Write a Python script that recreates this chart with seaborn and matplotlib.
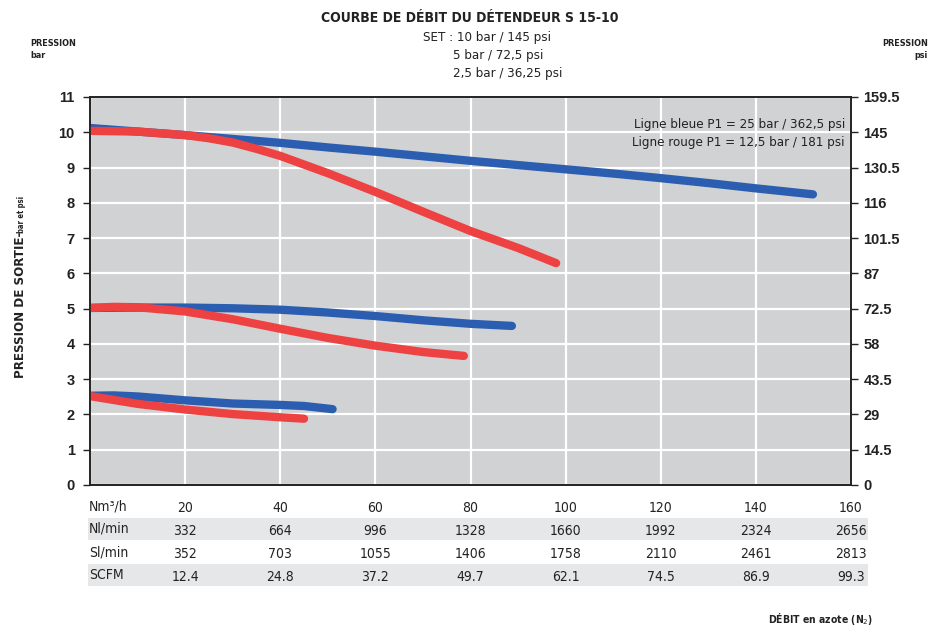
import matplotlib
matplotlib.use("Agg")
import matplotlib.pyplot as plt
import matplotlib.transforms as mtransforms
from matplotlib import font_manager as fm
from matplotlib.patches import Rectangle
import seaborn as sns
import pandas as pd

# Outlet pressure (bar) vs nitrogen flow (Nm3/h) for the three set points
blue_10_x = [0, 10, 20, 30, 40, 50, 60, 70, 80, 90, 100, 110, 120, 130, 140, 152]
blue_10_y = [10.12, 10.02, 9.92, 9.81, 9.70, 9.57, 9.45, 9.32, 9.19, 9.07, 8.95, 8.83, 8.70, 8.56, 8.41, 8.24]
red_10_x = [0, 10, 20, 25, 30, 35, 40, 50, 60, 70, 80, 90, 98]
red_10_y = [10.04, 10.02, 9.92, 9.83, 9.71, 9.53, 9.33, 8.84, 8.31, 7.75, 7.2, 6.72, 6.29]

blue_5_x = [0, 10, 20, 30, 40, 50, 60, 70, 80, 88.7]
blue_5_y = [5.02, 5.03, 5.03, 5.01, 4.97, 4.89, 4.79, 4.67, 4.57, 4.51]
red_5_x = [0, 5, 10, 20, 30, 40, 50, 60, 70, 78.6]
red_5_y = [5.02, 5.05, 5.04, 4.92, 4.70, 4.43, 4.17, 3.95, 3.77, 3.66]

blue_25_x = [0, 5, 10, 20, 30, 40, 45, 51]
blue_25_y = [2.53, 2.54, 2.51, 2.40, 2.31, 2.27, 2.24, 2.15]
red_25_x = [0, 10, 20, 30, 40, 45]
red_25_y = [2.52, 2.30, 2.14, 2.01, 1.92, 1.88]

# Axis ticks
bar_ticks = list(range(0, 12))
psi_labels = ["0", "14.5", "29", "43.5", "58", "72.5", "87", "101.5", "116", "130.5", "145", "159.5"]

# Flow conversion table under the chart
nm3h = [20, 40, 60, 80, 100, 120, 140, 160]
nl_min = ["332", "664", "996", "1328", "1660", "1992", "2324", "2656"]
sl_min = ["352", "703", "1055", "1406", "1758", "2110", "2461", "2813"]
scfm = ["12.4", "24.8", "37.2", "49.7", "62.1", "74.5", "86.9", "99.3"]

BLUE = "#2b5eb1"
RED = "#ee4242"
BG = "#d1d2d4"
INK = "#222222"

sns.set_theme(style="white")
plt.rcParams["font.family"] = ["Liberation Sans", "DejaVu Sans"]

# Prefer a narrow face for the annotation text when one is installed
NARROW = {"family": "Roboto"}
for f in fm.fontManager.ttflist:
    if "Narrow" in f.name or "Condensed" in f.name:
        NARROW = {"family": f.name}
        break
    if f.name == "DejaVu Sans" and f.stretch == "condensed":
        NARROW = {"family": "DejaVu Sans", "stretch": "condensed"}
        break

fig = plt.figure(figsize=(9.3, 6.28), dpi=100)
ax = fig.add_axes([90 / 930, 1 - 485 / 628, (851 - 90) / 930, (485 - 97) / 628])
ax.set_facecolor(BG)

curves = [
    (blue_10_x, blue_10_y, BLUE), (red_10_x, red_10_y, RED),
    (blue_5_x, blue_5_y, BLUE), (red_5_x, red_5_y, RED),
    (blue_25_x, blue_25_y, BLUE), (red_25_x, red_25_y, RED),
]
for xs, ys, col in curves:
    df = pd.DataFrame({"debit": xs, "pression": ys})
    sns.lineplot(data=df, x="debit", y="pression", color=col, lw=6,
                 solid_capstyle="round", solid_joinstyle="round", ax=ax, zorder=3)

ax.set_xlim(0, 160)
ax.set_ylim(0, 11)
ax.set_xticks([0] + nm3h)
ax.set_xticklabels([])
ax.set_yticks(bar_ticks)
ax.set_yticklabels([str(t) for t in bar_ticks], fontsize=10.5, fontweight="bold", color=INK)
ax.grid(True, color="white", lw=1.6)
ax.set_axisbelow(True)
ax.set_xlabel("")
ax.set_ylabel("")
for sp in ax.spines.values():
    sp.set_color(INK)
    sp.set_linewidth(1.2)
ax.tick_params(axis="both", direction="out", length=5, width=1, color=INK, pad=6)

ax2 = ax.twinx()
ax2.set_ylim(0, 11)
ax2.set_yticks(bar_ticks)
ax2.set_yticklabels(psi_labels, fontsize=10.5, fontweight="bold", color=INK)
ax2.tick_params(axis="y", direction="out", length=5, width=1, color=INK, pad=4)
for sp in ax2.spines.values():
    sp.set_color(INK)
    sp.set_linewidth(1.2)

# Legend notes inside the plot
ax.text(0.992, 0.93, "Ligne bleue P1 = 25 bar / 362,5 psi", transform=ax.transAxes,
        ha="right", va="center", fontsize=9.5, color=INK, **NARROW)
ax.text(0.992, 0.882, "Ligne rouge P1 = 12,5 bar / 181 psi", transform=ax.transAxes,
        ha="right", va="center", fontsize=9.5, color=INK, **NARROW)


def fy(py):
    return 1 - py / 628


# Titles
fig.text(470 / 930, fy(18), "COURBE DE DÉBIT DU DÉTENDEUR S 15-10", ha="center", va="center",
         fontsize=10, fontweight="bold", color=INK, **NARROW)
fig.text(423 / 930, fy(38), "SET : 10 bar / 145 psi", ha="left", va="center",
         fontsize=9.5, color=INK, **NARROW)
fig.text(453 / 930, fy(56), "5 bar / 72,5 psi", ha="left", va="center",
         fontsize=9.5, color=INK, **NARROW)
fig.text(453 / 930, fy(74), "2,5 bar / 36,25 psi", ha="left", va="center",
         fontsize=9.5, color=INK, **NARROW)

fig.text(30 / 930, fy(44), "PRESSION", ha="left", va="center", fontsize=6.5,
         fontweight="bold", color=INK, **NARROW)
fig.text(30 / 930, fy(55), "bar", ha="left", va="center", fontsize=6.5,
         fontweight="bold", color=INK, **NARROW)
fig.text(928 / 930, fy(44), "PRESSION", ha="right", va="center", fontsize=6.5,
         fontweight="bold", color=INK, **NARROW)
fig.text(928 / 930, fy(55), "psi", ha="right", va="center", fontsize=6.5,
         fontweight="bold", color=INK, **NARROW)

# Vertical axis title, two sizes sharing one baseline
fig.text(24 / 930, fy(378), "PRESSION DE SORTIE-", rotation=90, rotation_mode="anchor",
         ha="left", va="baseline", fontsize=9.5, fontweight="bold", color=INK, **NARROW)
fig.text(24 / 930, fy(233), "bar et psi", rotation=90, rotation_mode="anchor",
         ha="left", va="baseline", fontsize=5.5, fontweight="bold", color=INK, **NARROW)

# Conversion table: x in data units, y in figure units
tr = mtransforms.blended_transform_factory(ax.transData, fig.transFigure)
row_y = [506, 529, 552, 575]
row_names = ["Nm³/h", "Nl/min", "Sl/min", "SCFM"]
row_vals = [[str(v) for v in nm3h], nl_min, sl_min, scfm]
for i, (yy, name, vals) in enumerate(zip(row_y, row_names, row_vals)):
    if i % 2 == 1:
        fig.patches.append(Rectangle((88 / 930, fy(yy + 11)), (868 - 88) / 930, 22 / 628,
                                     transform=fig.transFigure, facecolor="#e6e7e8",
                                     edgecolor="none", zorder=0))
    fig.text(89 / 930, fy(yy), name, ha="left", va="center", fontsize=10,
             color=INK, **NARROW)
    for xv, txt in zip(nm3h, vals):
        fig.text(xv, fy(yy + 2), txt, transform=tr, ha="center", va="center",
                 fontsize=10, color=INK, **NARROW)

fig.text(873 / 930, fy(619), "DÉBIT en azote (N$_2$)", ha="right", va="center",
         fontsize=7.5, fontweight="bold", color=INK, **NARROW)

fig.savefig("out.png", dpi=100, facecolor="white")
